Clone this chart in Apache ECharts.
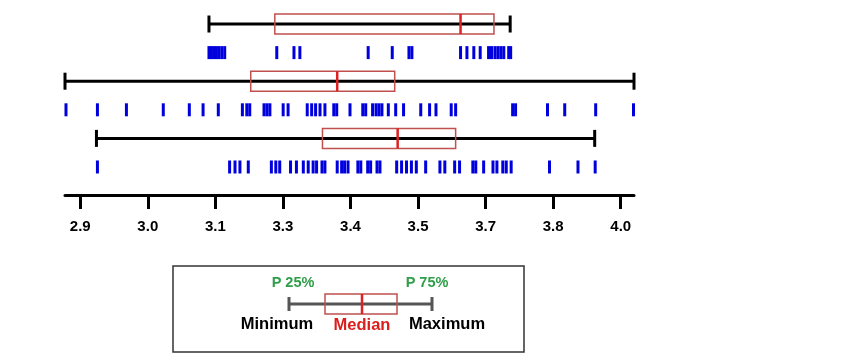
<!DOCTYPE html>
<html>
<head>
<meta charset="utf-8">
<script src="https://cdn.jsdelivr.net/npm/echarts@6/dist/echarts.min.js"></script>
<style>html,body{margin:0;padding:0;background:#fff}#c{width:850px;height:362px}</style>
</head>
<body>
<div id="c"></div>
<script>
// Box summaries (rows top to bottom)
const boxMin    = [3.162, 2.869, 2.933];
const boxQ1     = [3.296, 3.247, 3.393];
const boxMedian = [3.674, 3.423, 3.546];
const boxQ3     = [3.742, 3.540, 3.664];
const boxMax    = [3.775, 4.027, 3.947];

// Individual observations (rug) for each row
const rug1 = [3.162, 3.167, 3.172, 3.177, 3.182, 3.188, 3.194, 3.300, 3.335, 3.347, 3.486, 3.535, 3.569, 3.575,
  3.674, 3.687, 3.701, 3.714, 3.731, 3.737, 3.744, 3.750, 3.756, 3.762, 3.772, 3.776];
const rug2 = [2.871, 2.935, 2.994, 3.069, 3.122, 3.150, 3.181, 3.230, 3.239, 3.245, 3.274, 3.280, 3.286,
  3.313, 3.323, 3.362, 3.371, 3.379, 3.388, 3.398, 3.416, 3.422, 3.449, 3.475, 3.481, 3.495, 3.502,
  3.508, 3.514, 3.527, 3.542, 3.558, 3.593, 3.611, 3.624, 3.655, 3.664, 3.780, 3.786, 3.851, 3.886,
  3.949, 4.026];
const rug3 = [2.935, 3.204, 3.215, 3.225, 3.242, 3.289, 3.298, 3.306, 3.328, 3.340, 3.354, 3.364, 3.374,
  3.381, 3.392, 3.398, 3.423, 3.432, 3.438, 3.445, 3.465, 3.471, 3.485, 3.491, 3.504, 3.510, 3.544,
  3.554, 3.564, 3.574, 3.584, 3.603, 3.632, 3.642, 3.662, 3.672, 3.699, 3.705, 3.721, 3.740, 3.748,
  3.760, 3.767, 3.777, 3.855, 3.913, 3.948];

// Axis ticks (evenly spaced) and their printed labels
const tickValues = [2.9, 3.0375, 3.175, 3.3125, 3.45, 3.5875, 3.725, 3.8625, 4.0];
const tickLabels = ['2.9', '3.0', '3.1', '3.3', '3.4', '3.5', '3.7', '3.8', '4.0'];

const axisMin = 2.869, axisMax = 4.027;

const rugs = [rug1, rug2, rug3];
const boxData = boxMin.map((m, i) => [m, boxQ1[i], boxMedian[i], boxQ3[i], boxMax[i], i * 2]);
const rugData = [];
rugs.forEach((r, i) => r.forEach(v => rugData.push([v, i * 2 + 1])));

const FONT = '"Liberation Sans", Arial, sans-serif';
const chart = echarts.init(document.getElementById('c'), null, {renderer: 'canvas'});
chart.setOption({
  animation: false,
  backgroundColor: '#fff',
  grid: {left: 65, right: 216, top: 0, bottom: 167},
  xAxis: {
    type: 'value', min: axisMin, max: axisMax,
    axisLine: {show: true, onZero: false, lineStyle: {color: '#000', width: 3}},
    axisTick: {show: true, length: 14, lineStyle: {color: '#000', width: 3}, customValues: tickValues},
    axisLabel: {
      customValues: tickValues, margin: 24, color: '#000', fontSize: 15, fontWeight: 'bold', fontFamily: FONT,
      formatter: v => { const i = tickValues.findIndex(t => Math.abs(t - v) < 1e-6); return i >= 0 ? tickLabels[i] : ''; }
    },
    splitLine: {show: false}
  },
  yAxis: {
    type: 'value', inverse: true, min: -0.84, max: 5.98, show: false
  },
  series: [
    {
      type: 'custom',
      data: boxData,
      encode: {x: [0, 1, 2, 3, 4], y: 5},
      renderItem: function (params, api) {
        const y = api.value(5);
        const lo = api.coord([api.value(0), y]);
        const q1 = api.coord([api.value(1), y]);
        const md = api.coord([api.value(2), y]);
        const q3 = api.coord([api.value(3), y]);
        const hi = api.coord([api.value(4), y]);
        const cy = lo[1];
        const black = {stroke: '#000', lineWidth: 3};
        return {
          type: 'group',
          children: [
            {type: 'line', shape: {x1: lo[0], y1: cy, x2: hi[0], y2: cy}, style: black},
            {type: 'line', shape: {x1: lo[0], y1: cy - 8.5, x2: lo[0], y2: cy + 8.5}, style: black},
            {type: 'line', shape: {x1: hi[0], y1: cy - 8.5, x2: hi[0], y2: cy + 8.5}, style: black},
            {type: 'rect', shape: {x: q1[0], y: cy - 10, width: q3[0] - q1[0], height: 20},
             style: {fill: null, stroke: '#c0504d', lineWidth: 1.5}},
            {type: 'line', shape: {x1: md[0], y1: cy - 10, x2: md[0], y2: cy + 10},
             style: {stroke: '#dd2222', lineWidth: 2.5}}
          ]
        };
      }
    },
    {
      type: 'scatter',
      data: rugData,
      symbol: 'rect',
      symbolSize: [3, 13],
      itemStyle: {color: '#0000dd', opacity: 1}
    }
  ],
  graphic: [
    {type: 'rect', shape: {x: 173, y: 266, width: 351, height: 86},
     style: {fill: '#fff', stroke: '#333', lineWidth: 1.5}},
    {type: 'line', shape: {x1: 289, y1: 304, x2: 432, y2: 304}, style: {stroke: '#555', lineWidth: 3}},
    {type: 'line', shape: {x1: 289, y1: 297, x2: 289, y2: 311}, style: {stroke: '#555', lineWidth: 3}},
    {type: 'line', shape: {x1: 432, y1: 297, x2: 432, y2: 311}, style: {stroke: '#555', lineWidth: 3}},
    {type: 'rect', shape: {x: 325, y: 294, width: 72, height: 20}, style: {fill: null, stroke: '#c0504d', lineWidth: 1.5}},
    {type: 'line', shape: {x1: 362, y1: 294, x2: 362, y2: 314}, style: {stroke: '#dd2222', lineWidth: 2.5}},
    {type: 'text', x: 293, y: 283, style: {text: 'P 25%', fill: '#2e9e48', font: 'bold 14.5px ' + FONT, align: 'center', verticalAlign: 'middle'}},
    {type: 'text', x: 427, y: 283, style: {text: 'P 75%', fill: '#2e9e48', font: 'bold 14.5px ' + FONT, align: 'center', verticalAlign: 'middle'}},
    {type: 'text', x: 277, y: 324, style: {text: 'Minimum', fill: '#000', font: 'bold 16.5px ' + FONT, align: 'center', verticalAlign: 'middle'}},
    {type: 'text', x: 362, y: 325, style: {text: 'Median', fill: '#dd1c1c', font: 'bold 16.5px ' + FONT, align: 'center', verticalAlign: 'middle'}},
    {type: 'text', x: 447, y: 324, style: {text: 'Maximum', fill: '#000', font: 'bold 16.5px ' + FONT, align: 'center', verticalAlign: 'middle'}}
  ]
});
</script>
</body>
</html>
